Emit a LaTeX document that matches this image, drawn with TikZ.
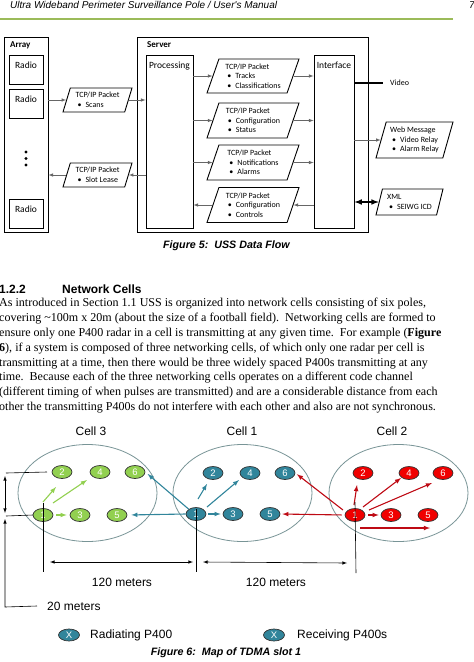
\documentclass[tikz,border=0pt]{standalone}
\usepackage{fontspec}
\setmainfont{Liberation Serif}
\newfontfamily\arialfont{Liberation Sans}
\newfontfamily\calfont{Carlito}
\usepackage{tikz}
\usetikzlibrary{shapes.geometric}
\usetikzlibrary{calc}
\usetikzlibrary{positioning}
\usetikzlibrary{arrows}
\definecolor{rulegreen}{RGB}{155,187,89}
\definecolor{polegreen}{RGB}{146,208,80}
\definecolor{poleteal}{RGB}{49,133,155}
\definecolor{polered}{RGB}{240,0,0}
\definecolor{darkred}{RGB}{190,10,20}
\definecolor{ringgray}{RGB}{120,148,150}
\newcommand{\pktitem}[1]{\hspace{2pt}\textbullet\hspace{4pt}#1}
\tikzset{box/.style={draw=black, line width=0.9pt, inner sep=0pt}}
\tikzset{radiobox/.style={draw=black, line width=0.9pt, minimum width=34pt, inner xsep=0pt, inner ysep=3pt, text height=10pt, text depth=13pt, font=\calfont\fontsize{9.5}{10}\selectfont}}
\tikzset{tallbox/.style={draw=black, line width=0.9pt, inner xsep=0pt, inner ysep=3pt, text height=10pt, text depth=157pt, font=\calfont\fontsize{9.5}{10}\selectfont}}
\tikzset{boxtitle/.style={anchor=west, inner sep=0pt, font=\calfont\bfseries\fontsize{9}{9}\selectfont}}
\tikzset{packet/.style={shape=trapezium, trapezium left angle=66, trapezium right angle=114, trapezium stretches body, draw=black, line width=0.9pt, align=left, inner sep=1pt, font=\calfont\fontsize{8}{9.6}\selectfont}}
\tikzset{flow/.style={->, draw=black!60, line width=0.6pt}}
\tikzset{dotmark/.style={circle, fill=black, minimum size=3.4pt, inner sep=0pt}}
\tikzset{bodyline/.style={anchor=base west, inner sep=0pt, font=\fontsize{12.05}{14}\selectfont}}
\tikzset{cellring/.style={shape=ellipse, draw=ringgray, line width=0.8pt, minimum width=139pt, minimum height=97pt}}
\tikzset{pole/.style={shape=ellipse, draw=black!80, line width=0.7pt, minimum width=20pt, minimum height=13pt, inner sep=0pt, text=white, font=\arialfont\fontsize{9.5}{9.5}\selectfont}}
\tikzset{gflow/.style={->, draw=polegreen, line width=1.1pt}}
\tikzset{tflow/.style={->, draw=poleteal, line width=1.1pt}}
\tikzset{rflow/.style={->, draw=darkred, line width=1.1pt}}
\tikzset{dim/.style={draw=black, line width=0.6pt}}
\tikzset{celltext/.style={inner sep=0pt, font=\arialfont\fontsize{12}{12}\selectfont}}
\tikzset{caption/.style={inner sep=0pt, font=\arialfont\bfseries\itshape\fontsize{10.7}{10.7}\selectfont}}

\begin{document}
\begin{tikzpicture}[x=1pt, y=-1pt, >=latex]
	\useasboundingbox (0,0) rectangle (474,662);
	% page header
	\node[anchor=base west, inner sep=0pt, font=\arialfont\itshape\fontsize{10}{10}\selectfont] (header) at (10,8.5) {Ultra Wideband Perimeter Surveillance Pole / User's Manual};
	\node[anchor=base west, inner sep=0pt, font=\arialfont\itshape\fontsize{10}{10}\selectfont] (pagenum) at (469,8.5) {7};
	\coordinate (ruleL) at (0,19);
	\coordinate (ruleR) at (453,19);
	\draw[rulegreen, line width=1.2pt] (ruleL) -- (ruleR);

	% figure 5
	\node[box, minimum width=44pt, minimum height=195pt] (array) at (26,134.5) {};
	\node[boxtitle] (arraytitle) at (10,45) {Array};
	\node[radiobox] (radio1) at (26,69.5) {Radio};
	\node[radiobox] (radio2) at (26,103.5) {Radio};
	\node[radiobox] (radio3) at (26,213.5) {Radio};
	\node[dotmark] (dot1) at (26,152) {};
	\node[dotmark] (dot2) at (26,158.5) {};
	\node[dotmark] (dot3) at (26,165) {};

	\node[box, minimum width=231pt, minimum height=195pt] (server) at (252.5,134.5) {};
	\node[boxtitle] (servertitle) at (147,45) {Server};
	\node[tallbox, minimum width=47pt] (proc) at (169.5,141.5) {Processing};
	\node[tallbox, minimum width=40pt] (iface) at (334,141.5) {Interface};

	\node[packet, minimum width=69pt, minimum height=24pt, trapezium left angle=67, trapezium right angle=113] (scan) at (97.5,100) {TCP/IP Packet\\\pktitem{Scans}};
	\node[packet, minimum width=69pt, minimum height=24pt, trapezium left angle=67, trapezium right angle=113] (lease) at (97.5,175) {TCP/IP Packet\\\pktitem{Slot Lease}};
	\node[packet, minimum width=92pt, minimum height=34pt] (tracks) at (253,76) {TCP/IP Packet\\\pktitem{Tracks}\\\pktitem{Classifications}};
	\node[packet, minimum width=92pt, minimum height=35pt] (status) at (253,120.5) {TCP/IP Packet\\\pktitem{Configuration}\\\pktitem{Status}};
	\node[packet, minimum width=92pt, minimum height=35pt] (alarms) at (253,162.5) {TCP/IP Packet\\\pktitem{Notifications}\\\pktitem{Alarms}};
	\node[packet, minimum width=92pt, minimum height=35pt] (controls) at (253,205) {TCP/IP Packet\\\pktitem{Configuration}\\\pktitem{Controls}};
	\node[packet, minimum width=77pt, minimum height=36pt, trapezium left angle=70, trapezium right angle=110] (web) at (414.5,140) {Web Message\\\pktitem{Video Relay}\\\pktitem{Alarm Relay}};
	\node[packet, minimum width=67pt, minimum height=26pt, trapezium left angle=69, trapezium right angle=111] (xml) at (409.5,202) {XML\\\pktitem{SEIWG ICD}};
	\node[anchor=west, inner sep=0pt, font=\calfont\fontsize{8}{8}\selectfont] (video) at (390,83) {Video};

	\draw[flow] (array.east |- scan.west) -- (scan.west);
	\draw[flow] (scan.east) -- (proc.west |- scan.east);
	\draw[flow] (proc.west |- lease.east) -- (lease.east);
	\draw[flow] (lease.west) -- (array.east |- lease.west);
	\draw[flow] (proc.east |- tracks.west) -- (tracks.west);
	\draw[flow] (proc.east |- status.west) -- (status.west);
	\draw[flow] (proc.east |- alarms.west) -- (alarms.west);
	\draw[flow] (controls.west) -- (proc.east |- controls.west);
	\draw[flow] (tracks.east) -- (iface.west |- tracks.east);
	\draw[flow] (status.east) -- (iface.west |- status.east);
	\draw[flow] (alarms.east) -- (iface.west |- alarms.east);
	\draw[flow] (iface.west |- controls.east) -- (controls.east);
	\draw[flow] (iface.east |- web.west) -- (web.west);
	\draw[<->, line width=1.5pt] (iface.east |- xml.west) -- (xml.west);
	\draw[line width=1.5pt, shorten >=7pt] (iface.east |- video.west) -- (video.west);

	\node[caption] (cap5) at (226.5,246) {Figure 5:\ \ USS Data Flow};

	% section text
	\node[anchor=base west, inner sep=0pt, font=\arialfont\bfseries\fontsize{12}{12}\selectfont] (secnum) at (-1,293) {1.2.2};
	\node[anchor=base west, inner sep=0pt, font=\arialfont\bfseries\fontsize{12}{12}\selectfont] (sectitle) at (62,293) {Network Cells};
	\node[bodyline] (line1) at (-1,306) {As introduced in Section 1.1 USS is organized into network cells consisting of six poles,};
	\node[bodyline] (line2) at (-1,321) {covering \textasciitilde100m x 20m (about the size of a football field).\ \ Networking cells are formed to};
	\node[bodyline] (line3) at (-1,336) {ensure only one P400 radar in a cell is transmitting at any given time.\ \ For example (\textbf{Figure}};
	\node[bodyline] (line4) at (-1,351) {\textbf{6}), if a system is composed of three networking cells, of which only one radar per cell is};
	\node[bodyline] (line5) at (-1,366) {transmitting at a time, then there would be three widely spaced P400s transmitting at any};
	\node[bodyline] (line6) at (-1,380) {time.\ \ Because each of the three networking cells operates on a different code channel};
	\node[bodyline] (line7) at (-1,395) {(different timing of when pulses are transmitted) and are a considerable distance from each};
	\node[bodyline] (line8) at (-1,410) {other the transmitting P400s do not interfere with each other and also are not synchronous.};

	% figure 6
	\node[celltext] (cell3) at (91,431) {Cell 3};
	\node[celltext] (cell1) at (242,431) {Cell 1};
	\node[celltext] (cell2) at (392,431) {Cell 2};
	\node[cellring] (ring3) at (87.5,493) {};
	\node[cellring] (ring1) at (242.5,493) {};
	\node[cellring] (ring2) at (398.5,493) {};

	\node[pole, fill=polegreen] (g1) at (43,515) {1};
	\node[pole, fill=polegreen] (g2) at (62,472) {2};
	\node[pole, fill=polegreen] (g3) at (80,515) {3};
	\node[pole, fill=polegreen] (g4) at (100,472) {4};
	\node[pole, fill=polegreen] (g5) at (117,515) {5};
	\node[pole, fill=polegreen] (g6) at (135,472) {6};

	\node[pole, fill=poleteal] (t1) at (196,514) {1};
	\node[pole, fill=poleteal] (t2) at (213,473) {2};
	\node[pole, fill=poleteal] (t3) at (233,514) {3};
	\node[pole, fill=poleteal] (t4) at (250,473) {4};
	\node[pole, fill=poleteal] (t5) at (270,514) {5};
	\node[pole, fill=poleteal] (t6) at (285,473) {6};

	\node[pole, fill=polered] (r1) at (355,515) {1};
	\node[pole, fill=polered] (r2) at (363,473) {2};
	\node[pole, fill=polered] (r3) at (391,515) {3};
	\node[pole, fill=polered] (r4) at (409,473) {4};
	\node[pole, fill=polered] (r5) at (428,515) {5};
	\node[pole, fill=polered] (r6) at (443,473) {6};

	\draw[gflow] ([shift={(0,-13)}]g1.center) -- ([shift={(-6,15)}]g2.center);
	\draw[gflow] ([shift={(10,-12)}]g1.center) -- ([shift={(-13,8)}]g4.center);
	\draw[gflow, shorten <=3pt, shorten >=3pt] (g1.east) -- (g3.west);

	\draw[tflow] ([shift={(2,-15)}]t1.center) -- ([shift={(-6,11)}]t2.center);
	\draw[tflow] ([shift={(11,-7)}]t1.center) -- ([shift={(-11,7)}]t4.center);
	\draw[tflow, shorten <=2pt, shorten >=2pt] (t1.east) -- (t3.west);
	\draw[tflow, shorten >=4pt] (t1.west) -- (g5.east);
	\draw[tflow, shorten >=3pt] (t1.north west) -- (g6.east);

	\draw[rflow] ([shift={(-1,-10)}]r1.center) -- ([shift={(-6,12)}]r2.center);
	\draw[rflow] ([shift={(8,-8)}]r1.center) -- ([shift={(-8,5)}]r4.center);
	\draw[rflow] ([shift={(14,-5)}]r1.center) -- ([shift={(-11,10)}]r6.center);
	\draw[rflow, shorten <=3pt, shorten >=2pt] (r1.east) -- (r3.west);
	\draw[rflow] ([shift={(5,13)}]r1.center) -- ([shift={(2,13)}]r5.center);
	\draw[rflow, shorten <=3pt, shorten >=2pt] (r1.west) -- (t5.east);
	\draw[rflow, shorten >=2pt] ([shift={(-12,-5)}]r1.center) -- (t6.east);

	% dimensions
	\coordinate (tick3) at (43,572);
	\coordinate (tick1) at (196,572);
	\coordinate (tick2) at (356,573);
	\draw[dim] ([yshift=12]g1.center) -- (tick3);
	\draw[dim] ([yshift=5]t1.center) -- (tick1);
	\draw[dim] ([yshift=13]r1.center) -- (tick2);
	\draw[dim, <->] ([shift={(7,-10)}]tick3) -- ([shift={(-3,-10)}]tick1);
	\draw[dim, <->] ([shift={(7,-10)}]tick1) -- ([shift={(-9,-10)}]tick2);
	\coordinate (rowtop) at (6,473);
	\coordinate (rowlow) at (6,516);
	\draw[dim] (rowtop) -- ([xshift=-15]g2.center);
	\draw[dim] (rowlow) -- ([xshift=-10]g1.center);
	\draw[dim, <->] ([shift={(-1,3)}]rowtop) -- ([shift={(-1,-3)}]rowlow);
	\node[celltext] (span31) at (122,582) {120 meters};
	\node[celltext] (span12) at (276,582) {120 meters};
	\node[celltext, anchor=west] (rowgap) at (47,606) {20 meters};
	\coordinate (leadcorner) at (5,607);
	\draw[dim, ->] ([xshift=-10]rowgap.west) -- (leadcorner) -- ([shift={(0,3)}]rowlow -| leadcorner);

	% legend
	\node[pole, fill=poleteal, minimum width=21pt, minimum height=12pt] (keyrad) at (69,635) {X};
	\node[celltext, anchor=west] (keyradtext) at (90,635) {Radiating P400};
	\node[pole, fill=poleteal, minimum width=21pt, minimum height=12pt] (keyrec) at (274,635) {X};
	\node[celltext, anchor=west] (keyrectext) at (297,635) {Receiving P400s};
	\node[caption] (cap6) at (226,653) {Figure 6:\ \ Map of TDMA slot 1};
\end{tikzpicture}
\end{document}
